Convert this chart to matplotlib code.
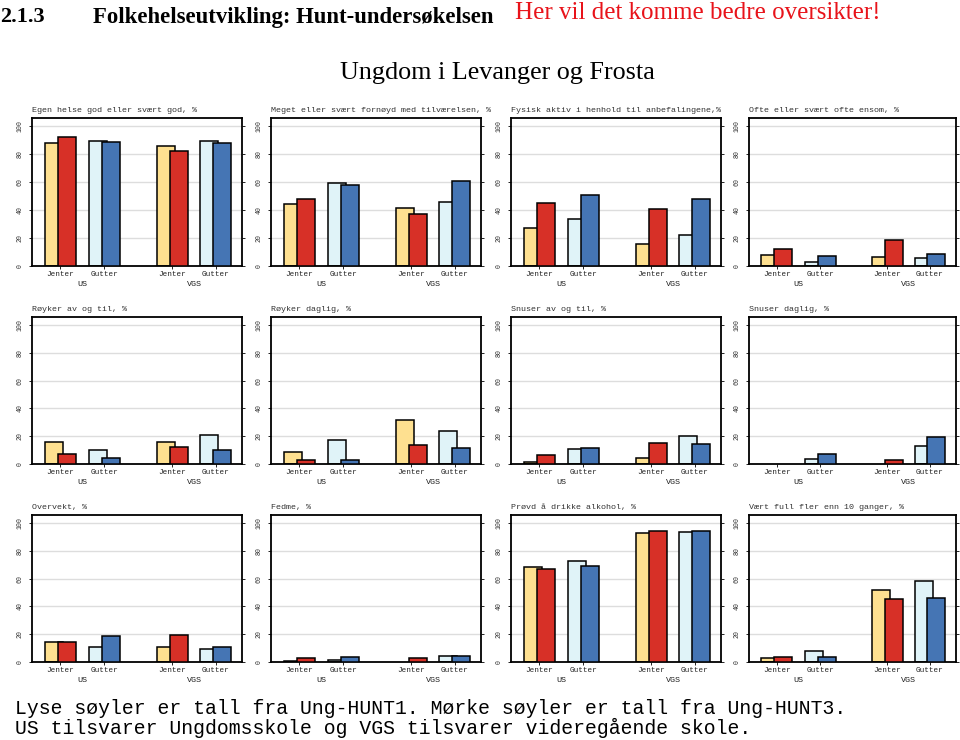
import matplotlib
matplotlib.use("Agg")
import matplotlib.pyplot as plt
from matplotlib.transforms import Bbox

titles = [
    "Egen helse god eller svært god, %",
    "Meget eller svært fornøyd med tilværelsen, %",
    "Fysisk aktiv i henhold til anbefalingene,%",
    "Ofte eller svært ofte ensom, %",
    "Røyker av og til, %",
    "Røyker daglig, %",
    "Snuser av og til, %",
    "Snuser daglig, %",
    "Overvekt, %",
    "Fedme, %",
    "Prøvd å drikke alkohol, %",
    "Vært full fler enn 10 ganger, %",
]
# one value per panel, in the order of `titles`
jenter_h1_us = [88, 44, 27, 8, 16, 8.6, 1.4, 0, 14.4, 0.5, 68.3, 2.9]
jenter_h3_us = [92, 47.5, 45, 12, 7, 3, 6.2, 0, 14.4, 2.9, 66.7, 3.6]
gutter_h1_us = [89.3, 59.6, 33.5, 3.1, 10.2, 16.9, 10.5, 3.8, 11, 1.4, 72.7, 8.2]
gutter_h3_us = [88.4, 58.2, 50.6, 7.1, 4.5, 2.9, 11.4, 6.9, 18.5, 3.6, 69.3, 3.6]
jenter_h1_vgs = [86, 41.6, 16, 6.2, 16, 31.8, 4.5, 0, 11, 0, 92.6, 51.8]
jenter_h3_vgs = [82.4, 37.3, 41, 18.5, 12.1, 13.5, 15.2, 2.9, 19.4, 2.9, 94.2, 45.1]
gutter_h1_vgs = [89.3, 45.8, 22, 5.5, 21.1, 23.5, 20.2, 13.1, 9.6, 4.6, 93.3, 58.3]
gutter_h3_vgs = [87.6, 60.6, 47.5, 8.8, 10.2, 11.2, 14.5, 19.5, 11, 4.6, 94.2, 45.8]

sex_labels = ["Jenter", "Gutter", "Jenter", "Gutter"]
school_labels = ["US", "VGS"]

LIGHT_J, DARK_J = "#FEE090", "#D73027"
LIGHT_G, DARK_G = "#E0F3F8", "#4575B4"
MONO = "Liberation Mono"
SERIF = "Liberation Serif"

W, H = 960, 740
fig = plt.figure(figsize=(W / 100, H / 100), dpi=100)

col_left = [32, 271, 511, 749]
col_width = [210, 210, 210, 207]
rows = [(118, 266), (317, 464), (515, 662)]

pos = [0, 1, 2.55, 3.53]
bw, off = 0.416, 0.148

for i, title in enumerate(titles):
    r, c = divmod(i, 4)
    top, bot = rows[r]
    ax = fig.add_axes([col_left[c] / W, (H - bot) / H,
                       col_width[c] / W, (bot - top) / H])
    light = [jenter_h1_us[i], gutter_h1_us[i], jenter_h1_vgs[i], gutter_h1_vgs[i]]
    dark = [jenter_h3_us[i], gutter_h3_us[i], jenter_h3_vgs[i], gutter_h3_vgs[i]]
    lcol = [LIGHT_J, LIGHT_G, LIGHT_J, LIGHT_G]
    dcol = [DARK_J, DARK_G, DARK_J, DARK_G]
    for x, lv, dv, lc, dc in zip(pos, light, dark, lcol, dcol):
        if lv > 0:
            ax.bar(x - off, lv, bw, color=lc, edgecolor="black", lw=1.1, zorder=2)
        if dv > 0:
            ax.bar(x + off, dv, bw, color=dc, edgecolor="black", lw=1.1, zorder=3)
    ax.set_xlim(-0.64, 4.13)
    ax.set_ylim(0, 105.7)
    ax.set_yticks([0, 20, 40, 60, 80, 100])
    ax.set_yticklabels(["0", "20", "40", "60", "80", "100"], rotation=90,
                       va="center", fontsize=4.8, family=MONO, color="#333333")
    ax.yaxis.grid(True, color="#dddddd", lw=1, zorder=0)
    ax.set_axisbelow(True)
    ax.tick_params(axis="y", left=True, right=True, length=2, width=0.6, pad=4)
    ax.set_xticks(pos)
    ax.set_xticklabels(sex_labels, fontsize=5.5, family=MONO, color="#222222")
    ax.tick_params(axis="x", length=2, width=0.6, pad=1.5)
    for j, lab in enumerate(school_labels):
        xc = (pos[2 * j] + pos[2 * j + 1]) / 2
        ax.text(xc, -0.125, lab, transform=ax.get_xaxis_transform(),
                ha="center", va="center", fontsize=6, family=MONO, color="#222222")
    for s in ax.spines.values():
        s.set_linewidth(1.3)
    t = fig.text(col_left[c] / W, (H - top + 4) / H, title, fontsize=6,
                 family=MONO, color="#333333", ha="left", va="bottom")
    t.set_clip_box(Bbox.from_extents(col_left[c] - 10, 0, col_left[c] + 220, H))
    t.set_clip_on(True)

fig.text(0 / W, 1 - 17 / H, "2.1.3", fontsize=16, family=SERIF,
         weight="bold", va="center", ha="left")
fig.text(93 / W, 1 - 17 / H, "Folkehelseutvikling: Hunt-undersøkelsen", fontsize=16.4,
         family=SERIF, weight="bold", va="center", ha="left")
fig.text(515 / W, 1 - 13 / H, "Her vil det komme bedre oversikter!", fontsize=18,
         family=SERIF, color="#E8131A", va="center", ha="left")
fig.text(497 / W, 1 - 73 / H, "Ungdom i Levanger og Frosta", fontsize=18.8,
         family=SERIF, va="center", ha="center")

fig.text(15 / W, 1 - 708 / H,
         "Lyse søyler er tall fra Ung-HUNT1. Mørke søyler er tall fra Ung-HUNT3.",
         fontsize=14.2, family=MONO, va="center", ha="left")
fig.text(15 / W, 1 - 728 / H,
         "US tilsvarer Ungdomsskole og VGS tilsvarer videregående skole.",
         fontsize=14.2, family=MONO, va="center", ha="left")

fig.savefig("out.png", dpi=100)
